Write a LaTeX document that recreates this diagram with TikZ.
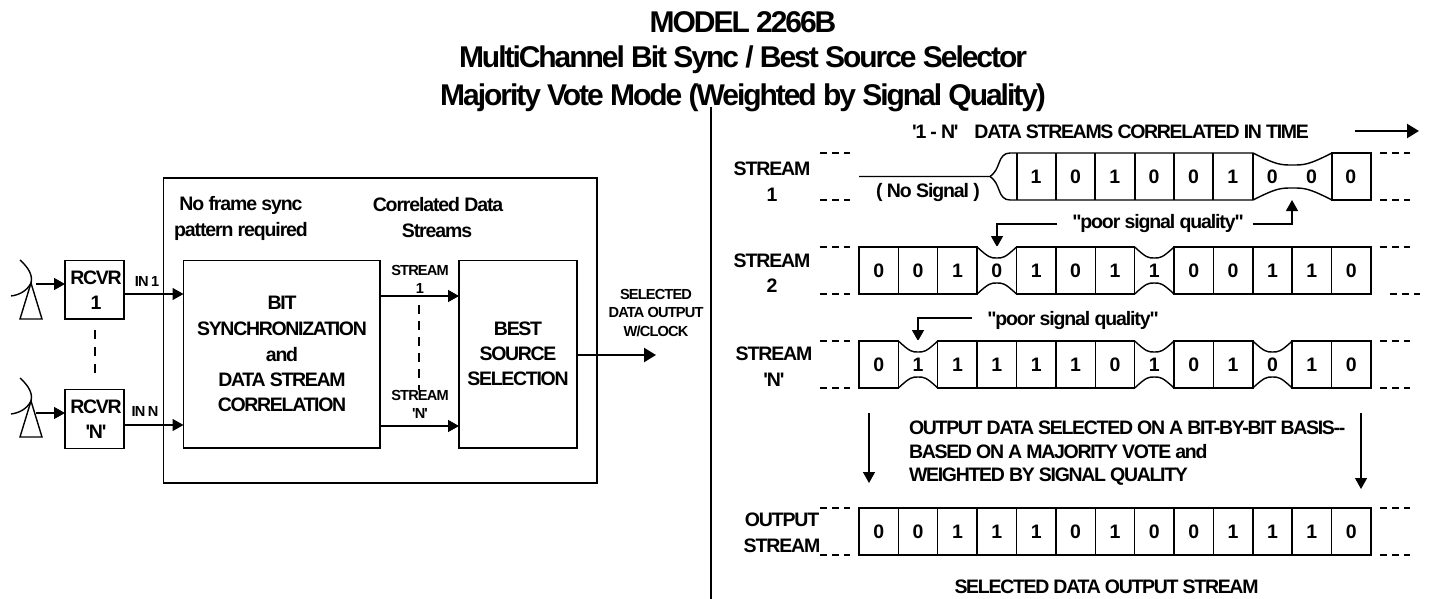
\documentclass[tikz,border=0pt]{standalone}
\usepackage{fontspec}
\usetikzlibrary{arrows.meta,calc}
\setmainfont{Liberation Sans}
\newfontfamily\tf[LetterSpace=-6.7]{Liberation Sans Bold}
\newfontfamily\tfm[LetterSpace=-5.8]{Liberation Sans Bold}
\newfontfamily\ttf[LetterSpace=-6.8]{Liberation Sans Bold}
\tikzset{
 x=1pt,y=-1pt,
 ln/.style={line width=1.4pt,black},
 boxn/.style={draw,line width=1.4pt,inner sep=0pt,outer sep=0pt},
 arr/.style={ln,-{Triangle[length=11pt,width=12pt]}},
 darr/.style={line width=1.3pt,dash pattern=on 7pt off 5pt},
 lbl/.style={inner sep=0pt,outer sep=0pt,align=center,font=\tf\fontsize{19.5}{21}\selectfont},
 lblm/.style={lbl,font=\tfm\fontsize{19.5}{21}\selectfont},
 lbls/.style={lbl,font=\tfm\fontsize{14.6}{16}\selectfont},
 ttl/.style={lbl,font=\ttf\fontsize{30}{32}\selectfont},
}
\newcommand{\pinchcell}[4]{% x1 x2 ytop depth
 \pgfmathsetmacro\pa{#1+(#2-#1)*0.3}
 \pgfmathsetmacro\pb{#1+(#2-#1)*0.35}
 \pgfmathsetmacro\pc{(#1+#2)/2}
 \pgfmathsetmacro\pd{#2-(#2-#1)*0.35}
 \pgfmathsetmacro\pe{#2-(#2-#1)*0.3}
 \pgfmathsetmacro\pt{#3+#4}
 \pgfmathsetmacro\pu{#3+47}
 \pgfmathsetmacro\pv{#3+47-#4}
 \draw[ln] (#1,#3) .. controls (\pa,\pt) and (\pb,\pt) .. (\pc,\pt) .. controls (\pd,\pt) and (\pe,\pt) .. (#2,#3);
 \draw[ln] (#1,\pu) .. controls (\pa,\pv) and (\pb,\pv) .. (\pc,\pv) .. controls (\pd,\pv) and (\pe,\pv) .. (#2,\pu);
}
\begin{document}
\begin{tikzpicture}
\useasboundingbox (0,0) rectangle (1429,599);
% title
\node[ttl] (t1) at (743,22) {MODEL 2266B};
\node[ttl] (t2) at (743,60) {MultiChannel Bit Sync / Best Source Selector};
\node[ttl] (t3) at (743,98) {Majority Vote Mode (Weighted by Signal Quality)};
% divider
\coordinate (d1) at (711,107); \coordinate (d2) at (711,599);
\draw[line width=1.8pt] (d1) -- (d2);
% left
\node[boxn,minimum width=433.5pt,minimum height=305pt] (outer) at (380.25,330.5) {};
\node[boxn,minimum width=196.5pt,minimum height=187.5pt] (bit) at (281.75,354.25) {};
\node[boxn,minimum width=118pt,minimum height=187.5pt] (best) at (518,354.25) {};
\node[boxn,minimum width=59pt,minimum height=58.5pt] (r1) at (94.5,289.75) {};
\node[boxn,minimum width=59pt,minimum height=58.5pt] (rn) at (94.5,419) {};
\coordinate (ya) at (0,294); \coordinate (yb) at (0,425); \coordinate (yc) at (0,296); \coordinate (yd) at (0,426);
\draw[arr] (r1.east |- ya) -- (bit.west |- ya);
\draw[arr] (rn.east |- yb) -- (bit.west |- yb);
\draw[arr] (bit.east |- yc) -- (best.west |- yc);
\draw[arr] (bit.east |- yd) -- (best.west |- yd);
\coordinate (oe) at (656,355);
\draw[line width=2.4pt,-{Triangle[length=12pt,width=14pt]}] (best.east |- oe) -- (oe);
\coordinate (da) at (95,330); \coordinate (db) at (95,380);
\draw[ln,dash pattern=on 9pt off 8pt] (da) -- (db);
\coordinate (dc) at (419,305); \coordinate (dd) at (419,390);
\draw[ln,dash pattern=on 9pt off 7pt] (dc) -- (dd);
% antennas
\draw[ln,line join=miter] (31,283) -- (42,319) -- (20,319) -- cycle;
\draw[ln] (20,260) .. controls (29,268) and (33,276) .. (31,283) .. controls (27,291) and (19,295) .. (11,296);
\coordinate (aa) at (36,284);\draw[arr] (aa) -- (r1.west |- aa);
\draw[ln,line join=miter] (31,401) -- (42,437) -- (20,437) -- cycle;
\draw[ln] (20,378) .. controls (29,386) and (33,394) .. (31,401) .. controls (27,409) and (19,413) .. (11,414);
\coordinate (ab) at (36,413);\draw[arr] (ab) -- (rn.west |- ab);
% left labels
\node[lbl] (a1) at (96,278) {RCVR}; \node[lbl] (a2) at (96,303) {1};
\node[lbl] (a3) at (96,407) {RCVR}; \node[lbl] (a4) at (96,432) {'N'};
\node[lbls] (a5) at (147,281) {IN\hspace{2.5pt}1}; \node[lbls] (a6) at (145,411) {IN\hspace{2.5pt}N};
\node[lblm] (a7) at (241,205) {No frame sync};
\node[lblm] (a8) at (241,231) {pattern required};
\node[lblm] (a9) at (438,205) {Correlated Data};
\node[lblm] (a10) at (437,231) {Streams};
\foreach \t/\y [count=\i] in {BIT/303,SYNCHRONIZATION/329,and/355,DATA STREAM/380,CORRELATION/405}
  \node[lbl] (b\i) at (282,\y) {\t};
\node[lbls] (c1) at (420,270) {STREAM}; \node[lbls] (c2) at (420,288) {1};
\node[lbls] (c3) at (420,395) {STREAM}; \node[lbls] (c4) at (420,413) {'N'};
\node[lbl] (e1) at (518,329) {BEST}; \node[lbl] (e2) at (518,354) {SOURCE}; \node[lbl] (e3) at (518,379) {SELECTION};
\node[lbls] (f1) at (656,294) {SELECTED}; \node[lbls] (f2) at (656,312) {DATA OUTPUT}; \node[lbls] (f3) at (656,331) {W/CLOCK};
% right labels
\node[lbl] (g1) at (1110.5,132) {'1 - N'\hspace{16pt}DATA STREAMS CORRELATED IN TIME};
\coordinate (h1) at (1355,131); \coordinate (h2) at (1419,131);
\draw[line width=2.2pt,-{Triangle[length=12pt,width=14pt]}] (h1) -- (h2);
\node[lblm] (s1a) at (772,169) {STREAM}; \node[lblm] (s1b) at (772,195) {1};
\node[lblm] (s2a) at (772,261) {STREAM}; \node[lblm] (s2b) at (772,286) {2};
\node[lblm] (s3a) at (774,354) {STREAM}; \node[lblm] (s3b) at (774,380) {'N'};
\node[lblm] (s4a) at (782,520) {OUTPUT}; \node[lblm] (s4b) at (782,546) {STREAM};
\node[lblm] (ns) at (928,193) {( No Signal )};
\node[lblm] (ps1) at (1158,223) {"poor signal quality"};
\node[lblm] (ps2) at (1073,320) {"poor signal quality"};
\coordinate (p1) at (997,224); \coordinate (p1e) at (997,247);
\draw[arr] ($(ps1.west)+(-15,1)$) -- (p1) -- (p1e);
\coordinate (p2) at (1292,224); \coordinate (p2e) at (1292,200);
\draw[arr] ($(ps1.east)+(9,1)$) -- (p2) -- (p2e);
\coordinate (p3) at (918,318); \coordinate (p3e) at (918,341);
\draw[arr] ($(ps2.west)+(-15,-2)$) -- (p3) -- (p3e);
\coordinate (q1) at (869,413); \coordinate (q1e) at (869,483);
\draw[arr] (q1) -- (q1e);
\coordinate (q2) at (1361,413); \coordinate (q2e) at (1361,489);
\draw[arr] (q2) -- (q2e);
\node[lbl,anchor=west] (m1) at (909,428) {OUTPUT DATA SELECTED ON A BIT-BY-BIT BASIS--};
\node[lbl,anchor=west] (m2) at (909,452) {BASED ON A MAJORITY VOTE and};
\node[lbl,anchor=west] (m3) at (909,477) {WEIGHTED BY SIGNAL QUALITY};
\node[lbl] (sd) at (1106.5,587) {SELECTED DATA OUTPUT STREAM};
% stream dashes
\foreach \y/\xa in {153/1380,200/1380,247/1380,294/1390,341/1380,388/1380,508/1380,555/1380}
  \draw[darr] (\xa,\y) -- ++(30,0);
\foreach \y in {153,200,247,294,341,388,508,555}
  \draw[darr] (820,\y) -- ++(30,0);
% stream 1
\draw[ln] (859,176.5) -- (990,176.5)
  .. controls (996,172) and (997,168) .. (999,163) .. controls (1001,157) and (1004,153) .. (1010,153) -- (1253,153)
  (990,176.5) .. controls (996,181) and (997,185) .. (999,190) .. controls (1001,196) and (1004,200) .. (1010,200) -- (1253,200);
\pinchcell{1253}{1332}{153}{12}
\draw[ln] (1332,153) -- (1371,153) -- (1371,200) -- (1332,200) -- cycle;
\foreach \x in {1017,1056,1095,1135,1174,1213,1253}
  \draw[ln] (\x,153) -- (\x,200);
\foreach \v [count=\i from 4] in {1,0,1,0,0,1,0,0,0}
  \node[lbl] (sa\i) at ({859+39.35*\i+19.7},177) {\v};
% streams 2, N, output
\foreach \tp/\nm/\vals/\pinch in {247/sb/{0,0,1,0,1,0,1,1,0,0,1,1,0}/{3,7},341/sc/{0,1,1,1,1,1,0,1,0,1,0,1,0}/{1,7,10},508/sd/{0,0,1,1,1,0,1,0,0,1,1,1,0}/{-1}}{
  \pgfmathsetmacro\bt{\tp+47}
  \draw[ln] (859,\tp) rectangle (1371,\bt);
  \foreach \v [count=\i from 0] in \vals {
    \pgfmathsetmacro\xx{859+39.38*\i}
    \pgfmathsetmacro\xc{\xx+19.7}
    \pgfmathsetmacro\yc{\tp+24}
    \node[lbl] (\nm\i) at (\xc,\yc) {\v};
    \ifnum\i>0 \draw[ln] (\xx,\tp) -- (\xx,\bt); \fi
  }
  \foreach \p in \pinch {
    \ifnum\p>-1
      \pgfmathsetmacro\xl{859+39.38*\p}
      \pgfmathsetmacro\xr{859+39.38*(\p+1)}
      \fill[white] (\xl+0.8,\tp-1) rectangle (\xr-0.8,\tp+1);
      \fill[white] (\xl+0.8,\bt-1) rectangle (\xr-0.8,\bt+1);
      \pinchcell{\xl}{\xr}{\tp}{11}
    \fi
  }
}
\end{tikzpicture}
\end{document}
